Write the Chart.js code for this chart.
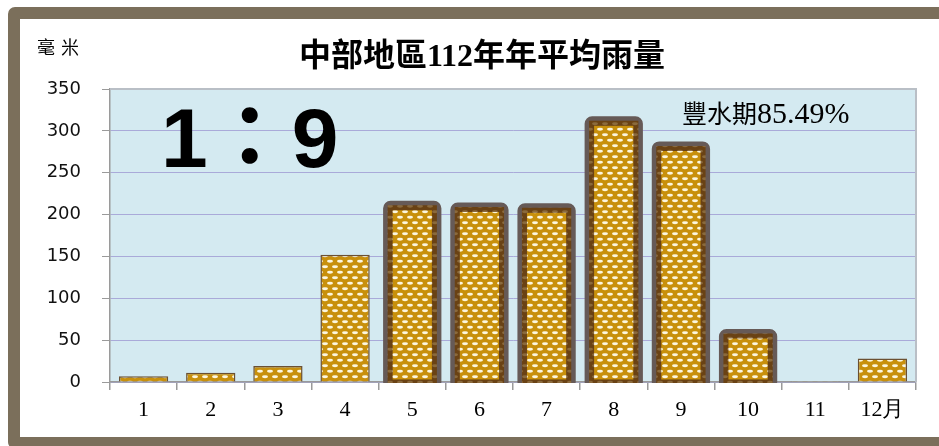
<!DOCTYPE html>
<html>
<head>
<meta charset="utf-8">
<script src="https://cdn.jsdelivr.net/npm/chart.js@4.4.1/dist/chart.umd.min.js"></script>
<style>
  html, body { margin: 0; padding: 0; background: #fff; }
  #wrap { position: relative; width: 939px; height: 446px; overflow: hidden; }
  #frame {
    position: absolute; left: 8px; top: 7px; width: 960px; height: 442px;
    box-sizing: border-box; border: 12px solid #7b6f5b; border-radius: 7px; background: #fff;
  }
  canvas { position: absolute; left: 0; top: 0; }
  .txt { position: absolute; white-space: nowrap; color: #000; }
  #unit { left: 37px; top: 33px; font: 18px 'Noto Sans CJK TC'; letter-spacing: 6px; }
  #title { left: 12px; width: 940px; top: 29px; text-align: center; font: bold 32px 'Liberation Serif', 'Noto Sans CJK TC'; }
  #ratio { left: 161px; top: 70px; font: bold 84px 'Liberation Sans', 'Noto Sans CJK TC'; }
  #wet { left: 682px; top: 94px; font: 25px 'Liberation Serif', 'Noto Sans CJK TC'; }
  #wet b { font-weight: normal; font-size: 30px; }
</style>
</head>
<body>
<div id="wrap">
  <div id="frame"></div>
  <canvas id="rainChart" width="939" height="446"></canvas>
  <div class="txt" id="unit">毫米</div>
  <div class="txt" id="title">中部地區112年年平均雨量</div>
  <div class="txt" id="ratio">1：9</div>
  <div class="txt" id="wet">豐水期<b>85.49%</b></div>
</div>
<script>
const months = ['1', '2', '3', '4', '5', '6', '7', '8', '9', '10', '11', '12月'];
const rainfall = [7, 11, 19, 152, 211, 209, 208, 312, 282, 58, 1, 28];
const wetMonths = ['5', '6', '7', '8', '9', '10'];
const yTicks = [0, 50, 100, 150, 200, 250, 300, 350];

// dotted fill like the excel texture
const makePattern = (base, dot) => {
  const tile = document.createElement('canvas');
  tile.width = 10;
  tile.height = 11;
  const c = tile.getContext('2d');
  c.fillStyle = base;
  c.fillRect(0, 0, 10, 11);
  c.fillStyle = dot;
  [[5, 2.75], [0, 8.25], [10, 8.25]].forEach(([cx, cy]) => {
    c.beginPath();
    c.ellipse(cx, cy, 3, 1.4, 0, 0, Math.PI * 2);
    c.fill();
  });
  return c.createPattern(tile, 'repeat');
};

const ctx = document.getElementById('rainChart').getContext('2d');
const goldPattern = makePattern('#c8900c', 'rgba(255,252,235,0.95)');
const brownPattern = makePattern('#6a4214', '#8b6a3c');

const isWet = (i) => wetMonths.includes(months[i]);

const plotBg = {
  id: 'plotBg',
  beforeDraw: (chart) => {
    const { ctx, chartArea: a } = chart;
    ctx.save();
    ctx.fillStyle = '#d4eaf1';
    ctx.fillRect(a.left, a.top, a.right - a.left, a.bottom - a.top);
    ctx.restore();
  },
  beforeDatasetsDraw: (chart) => {
    const { ctx, chartArea: a } = chart;
    ctx.save();
    ctx.strokeStyle = '#b9bfc6';
    ctx.lineWidth = 2;
    ctx.beginPath();
    ctx.moveTo(a.left, a.top);
    ctx.lineTo(a.right, a.top);
    ctx.lineTo(a.right, a.bottom);
    ctx.stroke();
    ctx.restore();
  },
};

// thick rounded frame on the wet season bars
const wetFrame = {
  id: 'wetFrame',
  afterDatasetsDraw: (chart) => {
    const { ctx, chartArea: a } = chart;
    const meta = chart.getDatasetMeta(0);
    ctx.save();
    ctx.beginPath();
    ctx.rect(a.left, a.top - 20, a.right - a.left, a.bottom - a.top + 21);
    ctx.clip();
    meta.data.forEach((bar, i) => {
      if (!isWet(i)) return;
      const { x, y, base, width } = bar.getProps(['x', 'y', 'base', 'width'], true);
      const l = x - width / 2;
      const h = base - y + 3;
      ctx.beginPath();
      ctx.roundRect(l, y, width, h, 3);
      ctx.lineWidth = 9;
      ctx.strokeStyle = '#665a57';
      ctx.stroke();
      ctx.beginPath();
      ctx.rect(l + 2.5, y + 2.5, width - 5, h - 5);
      ctx.lineWidth = 5;
      ctx.strokeStyle = brownPattern;
      ctx.stroke();
    });
    ctx.restore();
  },
};

new Chart(ctx, {
  type: 'bar',
  data: {
    labels: months,
    datasets: [
      {
        label: '雨量',
        data: rainfall,
        backgroundColor: goldPattern,
        borderColor: '#6b5032',
        borderWidth: (c) => (isWet(c.dataIndex) ? 0 : 1.5),
        barPercentage: 0.734,
        categoryPercentage: 1,
      },
    ],
  },
  options: {
    responsive: false,
    animation: false,
    devicePixelRatio: 1,
    layout: {
      padding: { top: 89, right: 23, left: 0, bottom: 0 },
    },
    scales: {
      x: {
        grid: {
          drawOnChartArea: false,
          drawTicks: true,
          tickLength: 8,
          color: '#9a9a9a',
          lineWidth: 1.5,
          offset: true,
        },
        border: { color: '#9a9a9a', width: 1.5 },
        ticks: {
          color: '#000',
          padding: 7,
          font: { family: 'Liberation Serif', size: 22 },
        },
        afterFit: (s) => { s.height = 64; },
      },
      y: {
        min: 0,
        max: 350,
        afterBuildTicks: (s) => { s.ticks = yTicks.map((v) => ({ value: v })); },
        grid: {
          color: '#a9aad9',
          tickColor: '#9a9a9a',
          tickLength: 8,
          lineWidth: 1,
        },
        border: { color: '#9a9a9a', width: 1.5 },
        ticks: {
          color: '#111',
          padding: 21,
          font: { family: 'DejaVu Sans', size: 18 },
        },
        afterFit: (s) => { s.width = 110; },
      },
    },
    plugins: {
      legend: { display: false },
      tooltip: { enabled: false },
    },
  },
  plugins: [plotBg, wetFrame],
});
</script>
</body>
</html>
